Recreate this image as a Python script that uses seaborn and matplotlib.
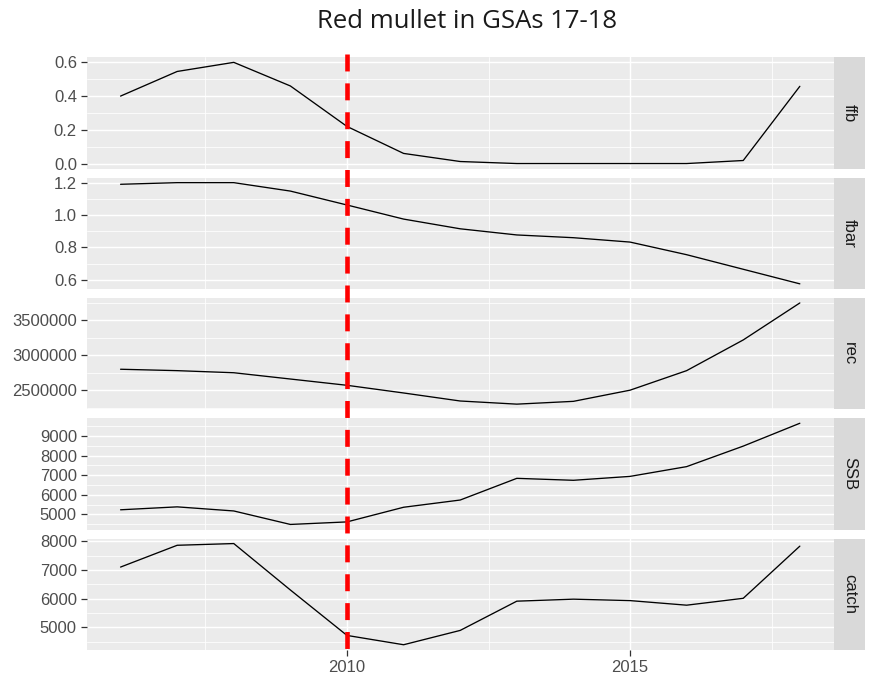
import matplotlib
matplotlib.use("Agg")
import numpy as np
import pandas as pd
import matplotlib.pyplot as plt
import matplotlib.transforms as mtransforms
from matplotlib.lines import Line2D
from matplotlib.ticker import FixedLocator, FixedFormatter
import seaborn as sns

# ---- data -------------------------------------------------------------
years = [2006, 2007, 2008, 2009, 2010, 2011, 2012, 2013, 2014, 2015, 2016, 2017, 2018]
ffb = [0.40, 0.546, 0.60, 0.46, 0.22, 0.06, 0.012, 0.0, 0.0, 0.0, 0.0, 0.018, 0.458]
fbar = [1.19, 1.20, 1.20, 1.148, 1.062, 0.975, 0.915, 0.877, 0.860, 0.833, 0.755, 0.665, 0.575]
rec = [2800000, 2780000, 2750000, 2660000, 2570000, 2460000, 2345000, 2300000, 2340000,
       2500000, 2780000, 3220000, 3750000]
ssb = [5230, 5380, 5170, 4480, 4610, 5360, 5730, 6840, 6740, 6940, 7440, 8490, 9660]
catch = [7100, 7860, 7920, 6300, 4715, 4390, 4890, 5910, 5980, 5930, 5770, 6010, 7830]

panel_names = ["ffb", "fbar", "rec", "SSB", "catch"]
ref_year = 2010
title = "Red mullet in GSAs 17-18"

x_ticks = [2010, 2015]
x_minor = [2007.5, 2012.5, 2017.5]

ffb_ticks = [0.0, 0.2, 0.4, 0.6]
ffb_labels = ["0.0", "0.2", "0.4", "0.6"]
ffb_minor = [0.1, 0.3, 0.5]
fbar_ticks = [0.6, 0.8, 1.0, 1.2]
fbar_labels = ["0.6", "0.8", "1.0", "1.2"]
fbar_minor = [0.7, 0.9, 1.1]
rec_ticks = [2500000, 3000000, 3500000]
rec_labels = ["2500000", "3000000", "3500000"]
rec_minor = [2250000, 2750000, 3250000, 3750000]
ssb_ticks = [5000, 6000, 7000, 8000, 9000]
ssb_labels = ["5000", "6000", "7000", "8000", "9000"]
ssb_minor = [4500, 5500, 6500, 7500, 8500, 9500]
catch_ticks = [5000, 6000, 7000, 8000]
catch_labels = ["5000", "6000", "7000", "8000"]
catch_minor = [4500, 5500, 6500, 7500]

series = [ffb, fbar, rec, ssb, catch]
ticks = [ffb_ticks, fbar_ticks, rec_ticks, ssb_ticks, catch_ticks]
labels = [ffb_labels, fbar_labels, rec_labels, ssb_labels, catch_labels]
minors = [ffb_minor, fbar_minor, rec_minor, ssb_minor, catch_minor]

df = pd.concat(
    [pd.DataFrame({"year": years, "value": vals, "qname": name})
     for name, vals in zip(panel_names, series)],
    ignore_index=True,
)

# ---- styling ----------------------------------------------------------
sns.set_style("darkgrid", {"axes.facecolor": "#EBEBEB", "grid.color": "white"})
plt.rcParams["font.family"] = ["Liberation Sans", "DejaVu Sans"]

W, H = 870, 681
fig = plt.figure(figsize=(W / 100, H / 100), dpi=100)
fig.patch.set_facecolor("white")

left_px, right_px = 86.6, 833.8
strip_w = 31.0
top0, panel_h, step = 57.3, 111.3, 120.3
tick_size = 12

x_lo = min(years) - 0.05 * (max(years) - min(years))
x_hi = max(years) + 0.05 * (max(years) - min(years))

axes = []
for i, name in enumerate(panel_names):
    top = top0 + i * step
    rect = [left_px / W, 1 - (top + panel_h) / H, (right_px - left_px) / W, panel_h / H]
    ax = fig.add_axes(rect)
    sub = df[df["qname"] == name]
    sns.lineplot(data=sub, x="year", y="value", color="black", lw=0.95, ax=ax,
                 legend=False)
    vals = np.asarray(series[i], dtype=float)
    span = vals.max() - vals.min()
    ax.set_ylim(vals.min() - 0.05 * span, vals.max() + 0.05 * span)
    ax.set_xlim(x_lo, x_hi)

    ax.yaxis.set_major_locator(FixedLocator(ticks[i]))
    ax.yaxis.set_major_formatter(FixedFormatter(labels[i]))
    ax.yaxis.set_minor_locator(FixedLocator(minors[i]))
    ax.xaxis.set_major_locator(FixedLocator(x_ticks))
    ax.xaxis.set_minor_locator(FixedLocator(x_minor))

    ax.grid(which="major", color="white", lw=1.05)
    ax.grid(which="minor", color="white", lw=0.55)
    ax.set_axisbelow(True)
    for s in ax.spines.values():
        s.set_visible(False)
    ax.set_xlabel("")
    ax.set_ylabel("")
    ax.tick_params(axis="y", which="major", left=True, length=4, width=0.9,
                   color="#333333", labelcolor="#4D4D4D", labelsize=tick_size, pad=3)
    ax.tick_params(which="minor", left=False, bottom=False, length=0)
    if i < len(panel_names) - 1:
        ax.tick_params(axis="x", which="major", bottom=False, labelbottom=False)
    else:
        ax.tick_params(axis="x", which="major", bottom=True, length=4, width=0.9,
                       color="#333333", labelcolor="#4D4D4D", labelsize=tick_size, pad=3)

    # facet strip on the right
    srect = [right_px / W, 1 - (top + panel_h) / H, strip_w / W, panel_h / H]
    sax = fig.add_axes(srect)
    sax.set_facecolor("#D9D9D9")
    sax.set_xticks([])
    sax.set_yticks([])
    sax.grid(False)
    for s in sax.spines.values():
        s.set_visible(False)
    sax.text(0.5, 0.5, name, rotation=270, ha="center", va="center",
             color="#1A1A1A", fontsize=tick_size, transform=sax.transAxes)
    axes.append(ax)

# reference year marker running through all panels
trans = mtransforms.blended_transform_factory(axes[-1].transData, fig.transFigure)
vline = Line2D([ref_year, ref_year], [1 - 54 / H, 1 - 654 / H], transform=trans,
               color="#FF0000", lw=3.3, dashes=(3.7, 2.6), solid_capstyle="butt",
               dash_capstyle="butt", zorder=10)
fig.add_artist(vline)

fig.text(467 / W, 1 - 21 / H, title, ha="center", va="center", fontsize=18.5,
         color="#1A1A1A", family=["Open Sans", "DejaVu Sans"])

fig.savefig("out.png", dpi=100)
